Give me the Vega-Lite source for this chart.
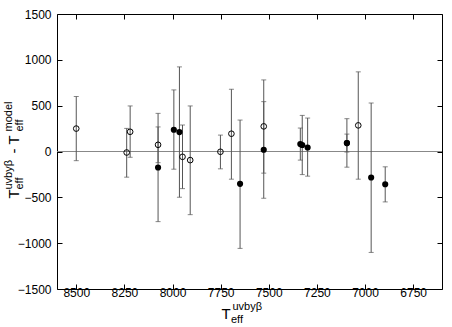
{
  "$schema": "https://vega.github.io/schema/vega-lite/v6.json",
  "width": 385,
  "height": 275,
  "autosize": {"type": "none"},
  "padding": {"left": 57, "top": 14, "right": 10, "bottom": 38},
  "background": "white",
  "config": {
    "view": {"stroke": null},
    "font": "Liberation Sans",
    "axis": {
      "domainColor": "black", "tickColor": "black", "grid": false,
      "labelFont": "Liberation Sans", "labelFontSize": 12, "labelColor": "black",
      "titleFont": "Liberation Sans", "titleColor": "black", "titleFontWeight": "normal",
      "tickSize": -5, "domainWidth": 1, "tickWidth": 1
    }
  },
  "data": {"values": [
    {"type": "open", "x": 8500, "y": 250, "lo": -100, "hi": 600},
    {"type": "open", "x": 8238, "y": -11, "lo": -280, "hi": 252},
    {"type": "open", "x": 8220, "y": 215, "lo": -63, "hi": 497},
    {"type": "open", "x": 8075, "y": 73, "lo": -122, "hi": 268},
    {"type": "filled", "x": 8075, "y": -175, "lo": -765, "hi": 416},
    {"type": "filled", "x": 7993, "y": 237, "lo": -193, "hi": 672},
    {"type": "filled", "x": 7964, "y": 212, "lo": -499, "hi": 923},
    {"type": "open", "x": 7948, "y": -58, "lo": -405, "hi": 289},
    {"type": "open", "x": 7908, "y": -94, "lo": -689, "hi": 497},
    {"type": "open", "x": 7751, "y": -3, "lo": -189, "hi": 179},
    {"type": "open", "x": 7694, "y": 194, "lo": -302, "hi": 679},
    {"type": "filled", "x": 7649, "y": -353, "lo": -1057, "hi": 343},
    {"type": "open", "x": 7526, "y": 274, "lo": -236, "hi": 781},
    {"type": "filled", "x": 7526, "y": 19, "lo": -510, "hi": 544},
    {"type": "filled", "x": 7336, "y": 81, "lo": -94, "hi": 256},
    {"type": "filled", "x": 7326, "y": 71, "lo": -252, "hi": 394},
    {"type": "filled", "x": 7298, "y": 44, "lo": -269, "hi": 365},
    {"type": "filled", "x": 7094, "y": 92, "lo": -171, "hi": 358},
    {"type": "filled", "x": 7094, "y": 92, "lo": -6, "hi": 190},
    {"type": "open", "x": 7035, "y": 285, "lo": -302, "hi": 869},
    {"type": "filled", "x": 6968, "y": -284, "lo": -1101, "hi": 529},
    {"type": "filled", "x": 6895, "y": -357, "lo": -550, "hi": -167}
  ]},
  "resolve": {"axis": {"x": "independent", "y": "independent"}},
  "layer": [
    {
      "mark": {"type": "rule", "color": "#888888", "strokeWidth": 1},
      "encoding": {
        "y": {"datum": 0, "type": "quantitative", "scale": {"domain": [-1500, 1500], "nice": false, "zero": false}, "axis": null}
      }
    },
    {
      "mark": {"type": "rule", "color": "#555555", "strokeWidth": 1},
      "encoding": {
        "x": {"field": "x", "type": "quantitative",
          "scale": {"domain": [6600, 8600], "reverse": true, "nice": false, "zero": false},
          "axis": {"orient": "bottom", "values": [8500, 8250, 8000, 7750, 7500, 7250, 7000, 6750], "format": "d", "labelPadding": 3,
            "title": "T", "titleFontSize": 15, "titleX": 164, "titleY": 29, "titleAlign": "left", "titleBaseline": "alphabetic", "titleAnchor": null}},
        "y": {"field": "lo", "type": "quantitative",
          "scale": {"domain": [-1500, 1500], "nice": false, "zero": false},
          "axis": {"orient": "left", "values": [-1500, -1000, -500, 0, 500, 1000, 1500], "format": "d", "labelPadding": 11,
            "title": "T", "titleFontSize": 15, "titleAngle": 270, "titleX": -39, "titleY": 184, "titleAlign": "left", "titleBaseline": "alphabetic", "titleAnchor": null}},
        "y2": {"field": "hi"}
      }
    },
    {
      "mark": {"type": "tick", "orient": "horizontal", "color": "#555555", "size": 5, "thickness": 1},
      "encoding": {
        "x": {"field": "x", "type": "quantitative",
          "axis": {"orient": "bottom", "domain": false, "ticks": false, "labels": false,
            "title": "eff", "titleFontSize": 11, "titleX": 173.5, "titleY": 33, "titleAlign": "left", "titleBaseline": "alphabetic", "titleAnchor": null}},
        "y": {"field": "lo", "type": "quantitative",
          "axis": {"orient": "left", "domain": false, "ticks": false, "labels": false,
            "title": "eff", "titleFontSize": 11, "titleAngle": 270, "titleX": -35, "titleY": 175, "titleAlign": "left", "titleBaseline": "alphabetic", "titleAnchor": null}}
      }
    },
    {
      "mark": {"type": "tick", "orient": "horizontal", "color": "#555555", "size": 5, "thickness": 1},
      "encoding": {
        "x": {"field": "x", "type": "quantitative",
          "axis": {"orient": "bottom", "domain": false, "ticks": false, "labels": false,
            "title": "uvbyβ", "titleFontSize": 11, "titleX": 175, "titleY": 20, "titleAlign": "left", "titleBaseline": "alphabetic", "titleAnchor": null}},
        "y": {"field": "hi", "type": "quantitative",
          "axis": {"orient": "left", "domain": false, "ticks": false, "labels": false,
            "title": "uvbyβ", "titleFontSize": 11, "titleAngle": 270, "titleX": -46, "titleY": 175, "titleAlign": "left", "titleBaseline": "alphabetic", "titleAnchor": null}}
      }
    },
    {
      "transform": [{"filter": "datum.type === 'open'"}],
      "mark": {"type": "point", "shape": "circle", "filled": false, "color": "black", "strokeWidth": 1, "size": 32, "opacity": 1},
      "encoding": {
        "x": {"field": "x", "type": "quantitative",
          "axis": {"orient": "top", "values": [8500, 8250, 8000, 7750, 7500, 7250, 7000, 6750], "labels": false, "title": null}},
        "y": {"field": "y", "type": "quantitative",
          "axis": {"orient": "left", "domain": false, "ticks": false, "labels": false,
            "title": "- T", "titleFontSize": 15, "titleAngle": 270, "titleX": -39, "titleY": 139, "titleAlign": "left", "titleBaseline": "alphabetic", "titleAnchor": null}}
      }
    },
    {
      "transform": [{"filter": "datum.type === 'filled'"}],
      "mark": {"type": "point", "shape": "circle", "filled": true, "color": "black", "size": 38, "opacity": 1},
      "encoding": {
        "x": {"field": "x", "type": "quantitative", "axis": null},
        "y": {"field": "y", "type": "quantitative",
          "axis": {"orient": "left", "domain": false, "ticks": false, "labels": false,
            "title": "eff", "titleFontSize": 11, "titleAngle": 270, "titleX": -35, "titleY": 117, "titleAlign": "left", "titleBaseline": "alphabetic", "titleAnchor": null}}
      }
    },
    {
      "mark": {"type": "point", "opacity": 0},
      "encoding": {
        "x": {"field": "x", "type": "quantitative", "axis": null},
        "y": {"field": "y", "type": "quantitative",
          "axis": {"orient": "left", "domain": false, "ticks": false, "labels": false,
            "title": "model", "titleFontSize": 11, "titleAngle": 270, "titleX": -46, "titleY": 117, "titleAlign": "left", "titleBaseline": "alphabetic", "titleAnchor": null}}
      }
    },
    {
      "mark": {"type": "point", "opacity": 0},
      "encoding": {
        "x": {"field": "x", "type": "quantitative", "axis": null},
        "y": {"field": "y", "type": "quantitative",
          "axis": {"orient": "right", "values": [-1500, -1000, -500, 0, 500, 1000, 1500], "labels": false, "title": null}}
      }
    }
  ]
}
